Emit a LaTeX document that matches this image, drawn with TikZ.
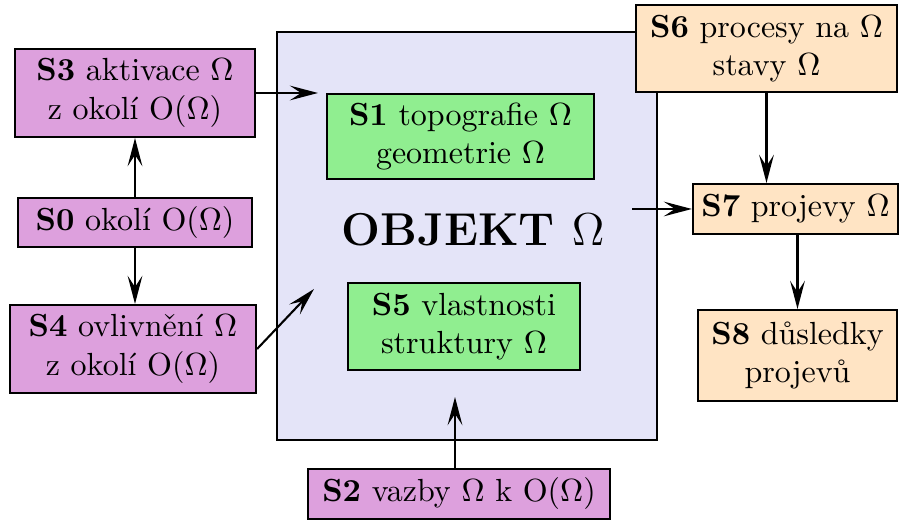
\documentclass[tikz,border=0pt]{standalone}
\usetikzlibrary{arrows.meta}
\definecolor{objfill}{HTML}{E4E4F8}
\definecolor{envfill}{HTML}{DDA0DD}
\definecolor{innerfill}{HTML}{90EE90}
\definecolor{outfill}{HTML}{FFE4C4}
\tikzset{
  box/.style={draw=black, line width=0.65pt, align=center, inner sep=1pt, font=\normalsize},
  envbox/.style={box, fill=envfill},
  innerbox/.style={box, fill=innerfill},
  outbox/.style={box, fill=outfill},
  arr/.style={line width=0.65pt, -{Stealth[length=8.8pt, width=4.6pt, inset=3.5pt]}},
}
\begin{document}
\begin{tikzpicture}[x=0.3125pt, y=-0.3125pt]
  \useasboundingbox (0,0) rectangle (899,521);

  % the object itself
  \node[box, fill=objfill, minimum width=118.75pt, minimum height=127.5pt] (obj) at (467,236) {};
  \node[font=\Large\bfseries] (objlabel) at (473,230) {OBJEKT $\Omega$};
  \node[innerbox, minimum width=83.4pt, minimum height=26.6pt] (S1) at (460.5,136.5)
    {\textbf{S1} topografie $\Omega$\\geometrie $\Omega$};
  \node[innerbox, minimum width=72.5pt, minimum height=27.2pt] (S5) at (464,326.5)
    {\textbf{S5} vlastnosti\\struktury $\Omega$};

  % surroundings
  \node[envbox, minimum width=75pt, minimum height=27.5pt] (S3) at (135,93)
    {\textbf{S3} aktivace $\Omega$\\z okolí O($\Omega$)};
  \node[envbox, minimum width=73.1pt, minimum height=15.3pt] (S0) at (135,222.5)
    {\textbf{S0} okolí O($\Omega$)};
  \node[envbox, minimum width=76.9pt, minimum height=27.5pt] (S4) at (133,349)
    {\textbf{S4} ovlivnění $\Omega$\\z okolí O($\Omega$)};
  \node[envbox, minimum width=94.4pt, minimum height=15.6pt] (S2) at (459,494)
    {\textbf{S2} vazby $\Omega$ k O($\Omega$)};

  % outcomes
  \node[outbox, minimum width=81.6pt, minimum height=27.2pt] (S6) at (766.5,48.5)
    {\textbf{S6} procesy na $\Omega$\\stavy $\Omega$};
  \node[outbox, minimum width=64.1pt, minimum height=15.6pt] (S7) at (795.5,209)
    {\textbf{S7} projevy $\Omega$};
  \node[outbox, minimum width=62.2pt, minimum height=28.4pt] (S8) at (797.5,355.5)
    {\textbf{S8} důsledky\\projevů};

  % free arrow ends inside the object
  \coordinate (t1) at (318,93);
  \coordinate (t4) at (314,289);
  \coordinate (t2) at (455,397);
  \coordinate (t5) at (632,209);

  % connectors
  \draw[arr] (S3.east) -- (t1);
  \draw[arr] (S0.north) -- (S3.south);
  \draw[arr] (S0.south) -- (S0.south |- S4.north);
  \draw[arr] (S4.east) -- (t4);
  \draw[arr] (t2 |- S2.north) -- (t2);
  \draw[arr] (t5) -- (S7.west);
  \draw[arr] (S6.south) -- (S6.south |- S7.north);
  \draw[arr] (S8.north |- S7.south) -- (S8.north);
\end{tikzpicture}
\end{document}
